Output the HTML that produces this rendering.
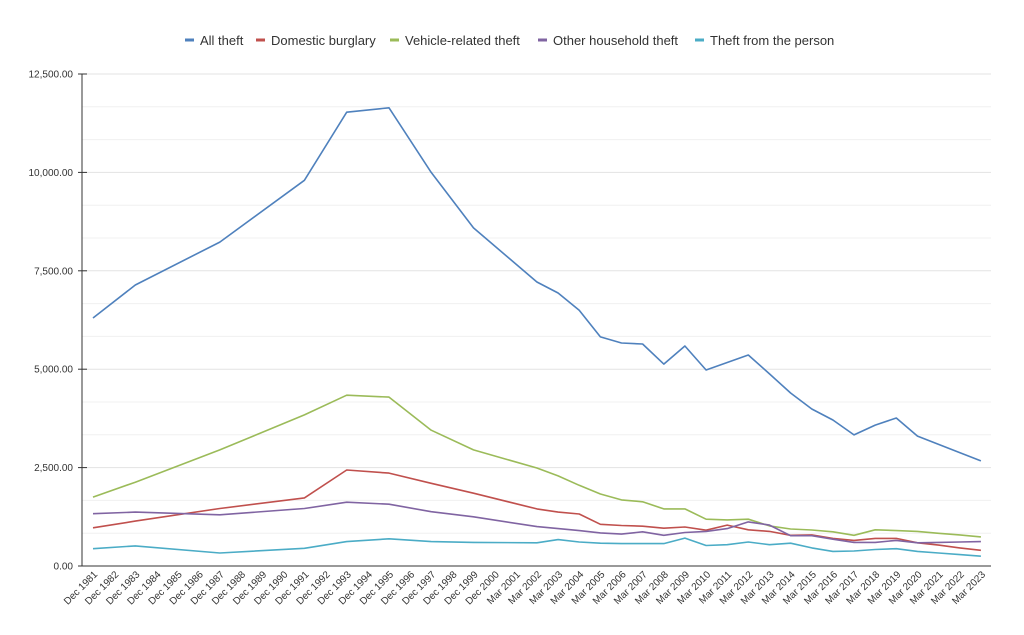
<!DOCTYPE html>
<html><head><meta charset="utf-8"><style>
html,body{margin:0;padding:0;background:#fff;}
svg{display:block;font-family:"Liberation Sans",Arial,sans-serif;}
</style></head><body>
<svg id="c" width="1024" height="635" xmlns="http://www.w3.org/2000/svg"></svg>
<script>
const svg=document.getElementById('c');
let h='';
const y0=566,yTop=74,x0=93,dx=21.14;
const Y=v=>y0-(v/12500)*(y0-yTop);
const X=i=>x0+i*dx;
for(let k=1;k<=15;k++){const v=k*12500/15;const yy=Y(v);
 h+=`<line x1="82" x2="991" y1="${yy}" y2="${yy}" stroke="${k%3==0?'#e3e3e3':'#f0f0f0'}" stroke-width="1"/>`;}
for(let k=0;k<=5;k++){const v=k*2500;const yy=Y(v);
 h+=`<line x1="78" x2="87" y1="${yy}" y2="${yy}" stroke="#333"/>`;
 h+=`<text x="73" y="${yy+3.5}" font-size="10" fill="#333" text-anchor="end">${v.toLocaleString('en-US',{minimumFractionDigits:2})}</text>`;}
h+=`<line x1="82" x2="82" y1="${yTop}" y2="${y0}" stroke="#333"/>`;
h+=`<line x1="82" x2="991" y1="${y0}" y2="${y0}" stroke="#333"/>`;
const labs=[];for(let y=1981;y<=2000;y++)labs.push('Dec '+y);for(let y=2001;y<=2023;y++)labs.push('Mar '+y);
labs.forEach((l,i)=>{const x=X(i)+5,yy=575;
 h+=`<text x="${x}" y="${yy}" font-size="10" fill="#333" text-anchor="end" transform="rotate(-45 ${x} ${yy})">${l}</text>`;});
const idx=[0,2,6,10,12,14,16,18];for(let i=21;i<=42;i++)idx.push(i);
const S=[
['#4f81bd',[6300,7140,8230,9800,11530,11640,10000,8590,7215,6935,6500,5820,5665,5640,5130,5590,4980,5170,5360,4880,4395,3990,3710,3330,3580,3760,3300,3090,2880,2670]],
['#c0504d',[970,1140,1460,1730,2440,2360,2100,1850,1450,1370,1320,1060,1030,1010,960,990,910,1040,920,880,780,790,700,650,700,700,590,530,460,400]],
['#9bbb59',[1750,2130,2950,3840,4340,4290,3450,2950,2490,2290,2050,1830,1680,1630,1450,1450,1190,1170,1190,1020,940,915,870,780,920,900,880,830,790,740]],
['#8064a2',[1330,1370,1300,1460,1620,1570,1380,1250,1000,950,900,840,810,870,780,850,880,950,1120,1040,770,770,680,600,600,650,590,600,610,620]],
['#4bacc6',[440,510,330,450,620,690,620,600,590,670,610,580,570,570,570,710,520,540,610,540,580,460,370,380,420,440,370,330,290,250]]];
S.forEach(([c,d])=>{const p=d.map((v,j)=>X(idx[j]).toFixed(1)+','+Y(v).toFixed(1)).join(' ');
 h+=`<polyline points="${p}" fill="none" stroke="${c}" stroke-width="1.6" stroke-linejoin="round"/>`;});
const L=[['All theft','#4f81bd',185],['Domestic burglary','#c0504d',256],['Vehicle-related theft','#9bbb59',390],['Other household theft','#8064a2',538],['Theft from the person','#4bacc6',695]];
L.forEach(([t,c,x])=>{h+=`<line x1="${x}" x2="${x+9}" y1="40" y2="40" stroke="${c}" stroke-width="3"/>`;
 h+=`<text x="${x+15}" y="45" font-size="13" fill="#333">${t}</text>`;});
svg.innerHTML=h;
</script>
</body></html>
